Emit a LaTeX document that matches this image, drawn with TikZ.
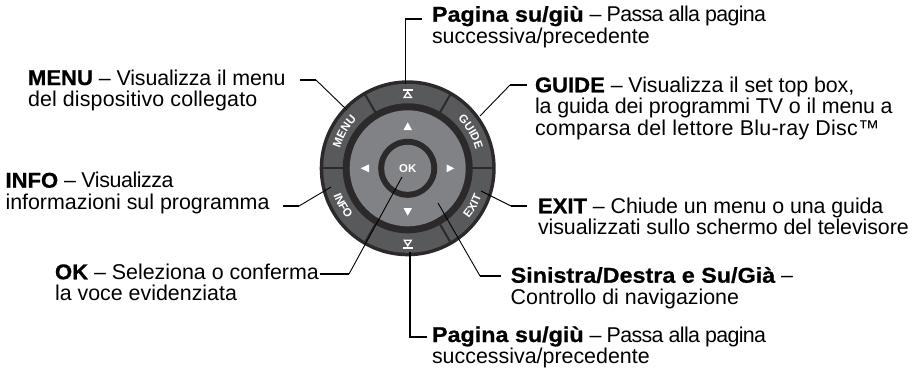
\documentclass[tikz,border=0pt]{standalone}
\usepackage{fontspec}
\setmainfont{Liberation Sans}
\newfontfamily\heavy[FakeStretch=1.03,FakeBold=0.8]{Liberation Sans Bold}
\newfontfamily\heavyw[FakeStretch=1.09,FakeBold=0.8]{Liberation Sans Bold}
\usetikzlibrary{decorations.text}
\definecolor{ringdark}{HTML}{2B292A}
\definecolor{seggrey}{HTML}{58595B}
\definecolor{padgrey}{HTML}{808285}
\tikzset{
  x=1pt,y=-1pt,
  lbl/.style={anchor=north west,inner sep=0pt,outer sep=0pt,align=left,font=\fontsize{21.4}{21.4}\selectfont},
  lead/.style={draw=black,line width=0.9pt,line join=round},
  leadh/.style={draw=black,line width=1.5pt,line cap=butt},
  sep/.style={draw=ringdark,line width=2pt},
}
\newcommand{\bt}[1]{\rule{0pt}{16pt}{\heavy #1}}
\newcommand{\btw}[1]{\rule{0pt}{16pt}{\heavyw #1}}
\newcommand{\ls}[2]{{\addfontfeature{LetterSpace=#1}#2}}
\begin{document}
\begin{tikzpicture}
\useasboundingbox (0,0) rectangle (920,370);
\coordinate (c) at (407.7,168.3);
% dial
\fill[ringdark] (c) circle[radius=88];
\fill[seggrey] (c) circle[radius=84.5];
\fill[ringdark] (c) circle[radius=65];
\fill[padgrey] (c) circle[radius=58];
\fill[ringdark] (c) circle[radius=29.5];
\fill[padgrey] (c) circle[radius=23.5];
\foreach \a in {0,60,120,180,240,300}
  \draw[sep] (c)++(\a:64) -- ++(\a:21);
\node[font=\bfseries\fontsize{11.4}{11.4}\selectfont,text=white,inner sep=0pt] (ok) at (c) {OK};
% arrows on pad
\fill[white] (407.7,122.3) -- (403.5,130) -- (412,130) -- cycle;
\fill[white] (407.7,215.7) -- (403.5,208) -- (412,208) -- cycle;
\fill[white] (360.7,168.3) -- (369,164.4) -- (369,172.3) -- cycle;
\fill[white] (454.3,168.3) -- (446.5,164.4) -- (446.5,172.3) -- cycle;
% page icons
\foreach \y/\s in {93.5/1,244/-1}{
  \fill[white] (403,\y-\s*4.5) -- (412.5,\y-\s*4.5) -- (412.5,\y-\s*3) -- (403,\y-\s*3) -- cycle;
  \fill[white] (407.7,\y-\s*3) -- (403,\y+\s*4.5) -- (412.5,\y+\s*4.5) -- cycle;
  \fill[seggrey] (407.7,\y+\s*0) -- (405.5,\y+\s*3) -- (410,\y+\s*3) -- cycle;
}
% ring labels
\tikzset{ringtext/.style={decorate,decoration={text along path,text align=center,
   text={|\bfseries\fontsize{11.5}{11.5}\selectfont\color{white}|#1}}}}
\path[ringtext=MENU] (c) ++(-190:70.5) arc[start angle=-190,end angle=-110,radius=70.5];
\path[ringtext=GUIDE] (c) ++(-70:70.5) arc[start angle=-70,end angle=10,radius=70.5];
\path[ringtext=INFO] (c) ++(-170:79) arc[start angle=-170,end angle=-250,radius=79];
\path[ringtext=EXIT] (c) ++(70:79) arc[start angle=70,end angle=-10,radius=79];
% labels
\node[lbl] (menu) at (28,69) {\bt{MENU} \ls{-0.6}{– Visualizza il menu}\\\ls{0.7}{del dispositivo collegato}};
\node[lbl] (info) at (5.5,171.7) {\bt{INFO} \ls{-2}{– Visualizza}\\informazioni sul programma};
\node[lbl] (ok2) at (55,263.3) {\bt{OK} – Seleziona o conferma\\la voce evidenziata};
\node[lbl] (ptop) at (432,5.7) {\btw{Pagina su/giù} \ls{-3.2}{– Passa alla pagina}\\successiva/precedente};
\node[lbl] (pbot) at (432,326) {\btw{Pagina su/giù} \ls{-3.2}{– Passa alla pagina}\\successiva/precedente};
\node[lbl] (guide) at (535,76.3) {\bt{GUIDE} \ls{-0.5}{– Visualizza il set top box,}\\\ls{-0.65}{la guida dei programmi TV o il menu a}\\\ls{1.3}{comparsa del lettore Blu-ray Disc™}};
\node[lbl] (exit) at (538,197.3) {\bt{EXIT} \ls{-0.5}{– Chiude un menu o una guida}\\\ls{-0.35}{visualizzati sullo schermo del televisore}};
\node[lbl] (nav) at (510.7,266.7) {\btw{Sinistra/Destra e Su/Già} –\\Controllo di navigazione};
% anchors
\coordinate (ptopS) at (421.7,19); \coordinate (ptopC) at (405.7,19); \coordinate (ptopE) at (405.7,84);
\coordinate (pbotS) at (427,337); \coordinate (pbotC) at (410,337); \coordinate (pbotE) at (410,252);
\coordinate (guideS) at (527,85); \coordinate (guideC) at (510,85); \coordinate (guideE) at (480,116);
\coordinate (exitS) at (527,206); \coordinate (exitC) at (511,206); \coordinate (exitE) at (481,191);
\coordinate (navS) at (501,276); \coordinate (navC) at (480,276); \coordinate (navE) at (438,203);
\coordinate (menuS) at (300,80); \coordinate (menuC) at (316,80); \coordinate (menuE) at (347,110);
\coordinate (okS) at (320,274); \coordinate (okC) at (349,274); \coordinate (okE) at (402,177);
\coordinate (infoS) at (283,206); \coordinate (infoC) at (299,206); \coordinate (infoE) at (331,187);
\draw[leadh,line join=miter] (ptopS) -- (ptopC) -- (ptopE);
\draw[leadh,line join=miter] (pbotS) -- (pbotC) -- (pbotE);
\foreach \k in {guide,exit,nav,menu,ok,info}{
  \draw[leadh] (\k S) -- (\k C);
  \draw[lead] (\k C) -- (\k E);
}
\end{tikzpicture}
\end{document}
